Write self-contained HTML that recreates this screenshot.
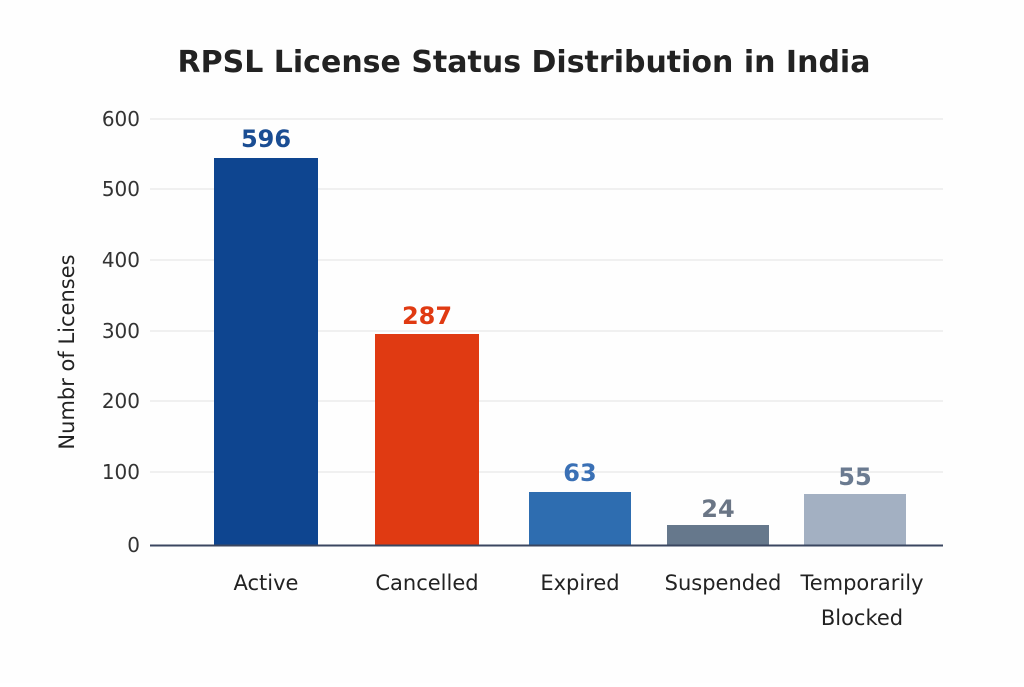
<!DOCTYPE html>
<html><head><meta charset="utf-8"><style>
html,body{margin:0;padding:0;background:#fff;}
body{width:1024px;height:683px;overflow:hidden;font-family:"DejaVu Sans","Liberation Sans",sans-serif;}
</style></head><body>
<svg width="1024" height="683" xmlns="http://www.w3.org/2000/svg">
<rect width="1024" height="683" fill="#fefefe"/>
<text x="524" y="72" text-anchor="middle" font-size="30" font-weight="bold" fill="#222" font-family="DejaVu Sans, Liberation Sans, sans-serif">RPSL License Status Distribution in India</text>
<g stroke="#e3e3e3" stroke-width="1">
<line x1="150" y1="119" x2="943" y2="119"/>
<line x1="150" y1="189" x2="943" y2="189"/>
<line x1="150" y1="260" x2="943" y2="260"/>
<line x1="150" y1="331" x2="943" y2="331"/>
<line x1="150" y1="401" x2="943" y2="401"/>
<line x1="150" y1="472" x2="943" y2="472"/>
</g>
<g font-size="20" fill="#333" text-anchor="end">
<text x="140" y="126">600</text>
<text x="140" y="196">500</text>
<text x="140" y="267">400</text>
<text x="140" y="338">300</text>
<text x="140" y="408">200</text>
<text x="140" y="479">100</text>
<text x="140" y="552">0</text>
</g>
<text transform="translate(74,352) rotate(-90)" text-anchor="middle" font-size="21" fill="#222">Numbr of Licenses</text>
<rect x="214" y="158" width="104" height="387" fill="#0e4590"/>
<rect x="375" y="334" width="104" height="211" fill="#e03a12"/>
<rect x="529" y="492" width="102" height="53" fill="#2e6db0"/>
<rect x="667" y="525" width="102" height="20" fill="#66788c"/>
<rect x="804" y="494" width="102" height="51" fill="#a3b0c2"/>
<line x1="150" y1="545.5" x2="943" y2="545.5" stroke="#3a4660" stroke-width="2"/>
<g font-size="24" font-weight="bold" text-anchor="middle">
<text x="266" y="147" fill="#1a4d93">596</text>
<text x="427" y="324" fill="#e03a12">287</text>
<text x="580" y="481" fill="#3a70b5">63</text>
<text x="718" y="517" fill="#6a7585">24</text>
<text x="855" y="485" fill="#6a7a90">55</text>
</g>
<g font-size="21" fill="#222" text-anchor="middle">
<text x="266" y="590">Active</text>
<text x="427" y="590">Cancelled</text>
<text x="580" y="590">Expired</text>
<text x="723" y="590">Suspended</text>
<text x="862" y="590">Temporarily</text>
<text x="862" y="625">Blocked</text>
</g>
</svg>
</body></html>
